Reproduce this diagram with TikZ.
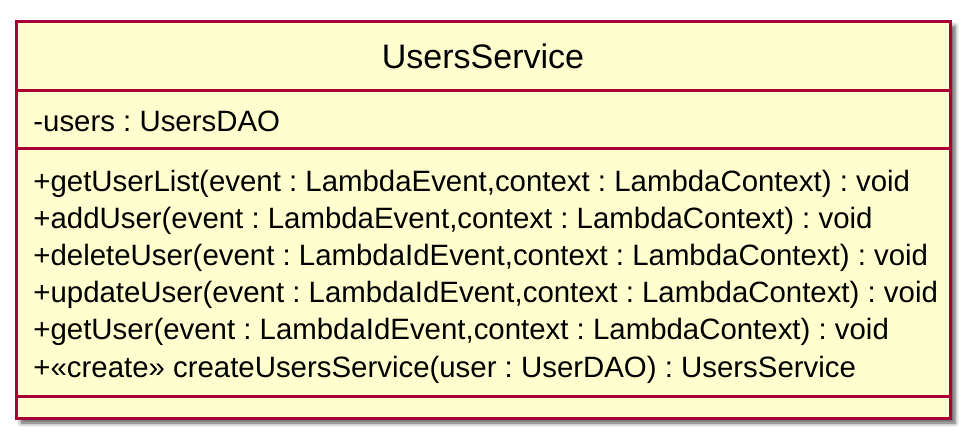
\documentclass[tikz,border=0pt]{standalone}
\usepackage{fontspec}
\setmainfont{Liberation Sans}
\usetikzlibrary{shadows.blur}
\definecolor{classfill}{HTML}{FEFECE}
\definecolor{classline}{HTML}{A80036}
\frenchspacing

\begin{document}
\begin{tikzpicture}[
  x=0.5pt,y=-0.5pt,
  classbox/.style={draw=classline,fill=classfill,line width=1.5pt},
  sepline/.style={draw=classline,line width=1.5pt},
  classname/.style={anchor=base,inner sep=0pt,font=\fontsize{17}{20}\selectfont},
  member/.style={anchor=base west,inner sep=0pt,font=\fontsize{14.7}{17}\selectfont}
]
  \useasboundingbox (0,0) rectangle (978,446);
  % class box with shadow
  \draw[classbox,blur shadow={shadow xshift=2.5pt,shadow yshift=-2.5pt,
    shadow blur steps=5,shadow opacity=65}] (16,21) rectangle (950,418);
  \coordinate (sepL1) at (16,90);   \coordinate (sepR1) at (950,90);
  \coordinate (sepL2) at (16,148);  \coordinate (sepR2) at (950,148);
  \coordinate (sepL3) at (16,396);  \coordinate (sepR3) at (950,396);
  \draw[sepline] (sepL1) -- (sepR1);
  \draw[sepline] (sepL2) -- (sepR2);
  \draw[sepline] (sepL3) -- (sepR3);
  % name
  \node[classname] (name) at (483,68) {UsersService};
  % fields
  \node[member] (users) at (33,131) {-users : UsersDAO};
  % methods
  \node[member] (getlist) at (33,191) {+getUserList(event : LambdaEvent,context : LambdaContext) : void};
  \node[member] (add) at (33,228) {+addUser(event : LambdaEvent,context : LambdaContext) : void};
  \node[member] (delete) at (33,265) {+deleteUser(event : LambdaIdEvent,context : LambdaContext) : void};
  \node[member] (update) at (33,302) {+updateUser(event : LambdaIdEvent,context : LambdaContext) : void};
  \node[member] (get) at (33,339) {+getUser(event : LambdaIdEvent,context : LambdaContext) : void};
  \node[member] (create) at (33,377) {+«create» createUsersService(user : UserDAO) : UsersService};
\end{tikzpicture}
\end{document}
